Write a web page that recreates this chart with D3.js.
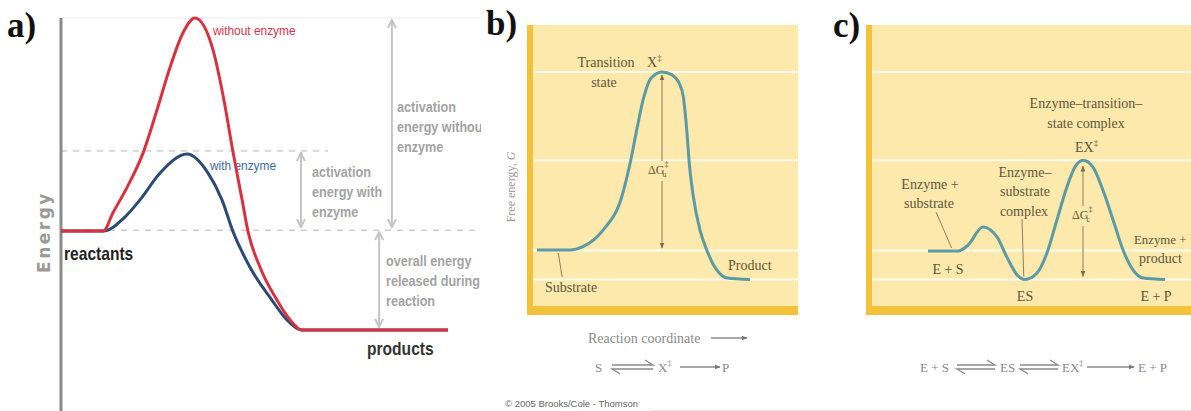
<!DOCTYPE html>
<html>
<head>
<meta charset="utf-8">
<script src="https://cdn.jsdelivr.net/npm/d3@7"></script>
<style>
  body { margin: 0; background: #fff; }
  svg { display: block; }
</style>
</head>
<body>
<svg width="1191" height="411"></svg>
<script>
const width = 1191;
const height = 411;
const svg = d3.select('svg');

// panel a - energy vs reaction progress (0-100), products = 0
const withoutX = [0, 10.9, 13.4, 17.1, 21.2, 24.8, 28.2, 31.5, 34.6, 39.3, 42.1, 44.4, 46.8, 48.3, 51.4, 55.8, 59.2, 62.3, 100];
const withoutE = [31.7, 31.7, 37.5, 45.8, 56.7, 70.5, 84.3, 95.2, 100, 89.7, 73.7, 57.4, 41.7, 31.7, 20.2, 9.6, 3.2, 0, 0];
const withX = [0, 10.9, 16.5, 20.4, 25.6, 32.6, 38, 41.6, 44.4, 48.8, 54.5, 58.4, 62.3, 100];
const withE = [31.7, 31.7, 36.2, 41.7, 50.3, 56.4, 50.3, 41.7, 31.7, 20.2, 9.6, 3.2, 0, 0];
const levelsA = {peakWithout: 100, peakWith: 57.4, reactants: 32, products: 0};

// panel b - uncatalysed reaction, free energy G
const bX = [0, 15.5, 21.6, 31.1, 39.8, 43.7, 46.8, 50.2, 53.5, 58.7, 63.4, 66.7, 68.7, 70.3, 71.5, 73.4, 76.5, 79.7, 84.4, 89.2, 100];
const bG = [14.2, 14.2, 15.8, 23.9, 39.9, 56, 72, 88.1, 97, 100, 98.6, 94.7, 88.1, 72, 56, 39.9, 23.9, 14.2, 4.6, 0.7, 0];

// panel c - enzyme catalysed reaction, same G scale
const cX = [0, 12.7, 16.9, 23.2, 29.1, 33.3, 37.6, 40.9, 46, 50.2, 54.4, 58.6, 62, 65.4, 69.6, 73.8, 78.1, 82.3, 86.5, 90.7, 100];
const cG = [13.7, 13.7, 16.6, 25.3, 20.5, 10.8, 2.2, 0, 3.1, 12.8, 28.7, 44.6, 54.2, 57.5, 54.2, 43.1, 28.7, 14.2, 4.6, 0.7, 0];

const gridG = [0, 14, 57.5, 100];

const serif = '"Liberation Serif", "DejaVu Serif", serif';
const sans = '"Liberation Sans", "DejaVu Sans", sans-serif';
const ink = '#62553d';

const zip = (xs, ys) => xs.map((x, i) => [x, ys[i]]);

// squeeze a text horizontally (no narrow font installed)
const condense = (sel, k) => sel.each(function() {
    const L = this.getComputedTextLength();
    d3.select(this).attr('textLength', L * k).attr('lengthAdjust', 'spacingAndGlyphs');
});

svg.append('rect').attr('width', width).attr('height', height).attr('fill', '#fff');

const defs = svg.append('defs');
defs.append('marker')
    .attr('id', 'chev')
    .attr('viewBox', '0 0 10 10')
    .attr('refX', 9).attr('refY', 5)
    .attr('markerWidth', 10).attr('markerHeight', 10)
    .attr('markerUnits', 'userSpaceOnUse')
    .attr('orient', 'auto-start-reverse')
    .append('path')
    .attr('d', 'M1,1 L9,5 L1,9')
    .attr('fill', 'none')
    .attr('stroke', '#c4c4c4')
    .attr('stroke-width', 2);
defs.append('marker')
    .attr('id', 'tip')
    .attr('viewBox', '0 0 10 10')
    .attr('refX', 9).attr('refY', 5)
    .attr('markerWidth', 6).attr('markerHeight', 6)
    .attr('markerUnits', 'userSpaceOnUse')
    .attr('orient', 'auto-start-reverse')
    .append('path')
    .attr('d', 'M0,1 L10,5 L0,9 Z')
    .attr('fill', '#7a6c50');
defs.append('marker')
    .attr('id', 'tipGray')
    .attr('viewBox', '0 0 10 10')
    .attr('refX', 9).attr('refY', 5)
    .attr('markerWidth', 6).attr('markerHeight', 6)
    .attr('markerUnits', 'userSpaceOnUse')
    .attr('orient', 'auto')
    .append('path')
    .attr('d', 'M0,1 L10,5 L0,9 Z')
    .attr('fill', '#777');

/* ---------------- panel a ---------------- */
const xA = d3.scaleLinear().domain([0, 100]).range([61, 448]);
const yA = d3.scaleLinear().domain([0, 100]).range([330, 18]);

const gA = svg.append('g');
defs.append('clipPath').attr('id', 'clipA')
    .append('rect').attr('x', 0).attr('y', 0).attr('width', 481).attr('height', height);
gA.attr('clip-path', 'url(#clipA)');

gA.append('line')
    .attr('x1', 61).attr('x2', 481)
    .attr('y1', yA(levelsA.peakWithout)).attr('y2', yA(levelsA.peakWithout))
    .attr('stroke', '#f1f1f1').attr('stroke-width', 1.5);

gA.append('line')
    .attr('x1', xA(0)).attr('x2', xA(69))
    .attr('y1', yA(levelsA.peakWith)).attr('y2', yA(levelsA.peakWith))
    .attr('stroke', '#cfcfcf').attr('stroke-width', 1.5).attr('stroke-dasharray', '6,6');
gA.append('line')
    .attr('x1', xA(0)).attr('x2', 481)
    .attr('y1', yA(levelsA.reactants)).attr('y2', yA(levelsA.reactants))
    .attr('stroke', '#cfcfcf').attr('stroke-width', 1.5).attr('stroke-dasharray', '6,6');

// y axis
gA.append('line')
    .attr('x1', 61).attr('x2', 61).attr('y1', 18).attr('y2', height)
    .attr('stroke', '#8a8a8a').attr('stroke-width', 3);

gA.append('text')
    .text('Energy')
    .attr('transform', 'translate(50,232) rotate(-90)')
    .attr('text-anchor', 'middle')
    .attr('font-family', '"DejaVu Sans", sans-serif')
    .attr('font-weight', 'bold')
    .attr('font-size', 17)
    .attr('letter-spacing', 2.5)
    .attr('fill', '#9a9a9a');

gA.append('text')
    .text('a)')
    .attr('x', 7).attr('y', 37)
    .attr('font-family', serif).attr('font-weight', 'bold').attr('font-size', 35)
    .attr('fill', '#111');

// annotation arrows
const arrowsA = [
    {x: 62, from: levelsA.peakWith, to: levelsA.reactants},
    {x: 85.5, from: levelsA.peakWithout, to: levelsA.reactants},
    {x: 82.2, from: levelsA.reactants, to: levelsA.products}
];
gA.selectAll('.ann')
    .data(arrowsA)
    .enter()
    .append('line')
    .attr('x1', d => xA(d.x)).attr('x2', d => xA(d.x))
    .attr('y1', d => yA(d.from) + 2).attr('y2', d => yA(d.to) - 3)
    .attr('stroke', '#c4c4c4').attr('stroke-width', 2)
    .attr('marker-start', 'url(#chev)').attr('marker-end', 'url(#chev)');

const noteA = [
    {x: 312, y: 177, lines: ['activation', 'energy with', 'enzyme']},
    {x: 397, y: 112, lines: ['activation', 'energy without', 'enzyme']},
    {x: 386, y: 266, lines: ['overall energy', 'released during', 'reaction']}
];
noteA.forEach(n => {
    n.lines.forEach((s, i) => {
        gA.append('text')
            .attr('x', n.x).attr('y', n.y + i * 20)
            .attr('font-family', sans).attr('font-weight', 'bold').attr('font-size', 14.5)
            .attr('fill', '#a3a3a3')
            .text(s)
            .call(condense, 0.87);
    });
});

gA.append('text').text('without enzyme')
    .attr('x', 213).attr('y', 35)
    .attr('font-family', sans).attr('font-size', 12.5).attr('fill', '#d8344a')
    .call(condense, 0.95);
gA.append('text').text('with enzyme')
    .attr('x', 210).attr('y', 170)
    .attr('font-family', sans).attr('font-size', 12.5).attr('fill', '#3d6aa0')
    .call(condense, 0.95);

const lineA = d3.line().x(d => xA(d[0])).y(d => yA(d[1])).curve(d3.curveMonotoneX);
gA.append('path')
    .attr('d', lineA(zip(withX, withE)))
    .attr('fill', 'none').attr('stroke', '#2b4a78').attr('stroke-width', 3);
gA.append('path')
    .attr('d', lineA(zip(withoutX, withoutE)))
    .attr('fill', 'none').attr('stroke', '#d8313f').attr('stroke-width', 3);

gA.append('text').text('reactants')
    .attr('x', xA(0) + 3).attr('y', 260)
    .attr('font-family', sans).attr('font-weight', 'bold').attr('font-size', 19)
    .attr('fill', '#222')
    .call(condense, 0.82);
gA.append('text').text('products')
    .attr('x', 367).attr('y', 355)
    .attr('font-family', sans).attr('font-weight', 'bold').attr('font-size', 19)
    .attr('fill', '#333')
    .call(condense, 0.82);

/* ---------------- panels b and c ---------------- */
const yG = d3.scaleLinear().domain([0, 100]).range([279.5, 72]);
const xB = d3.scaleLinear().domain([0, 100]).range([537, 750]);
const xC = d3.scaleLinear().domain([0, 100]).range([928, 1165]);

function panel(left, right) {
    const g = svg.append('g');
    g.append('rect')
        .attr('x', left).attr('y', 25)
        .attr('width', right - left).attr('height', 290)
        .attr('fill', '#f3c23a');
    g.append('rect')
        .attr('x', left + 6).attr('y', 25)
        .attr('width', right - left - 6).attr('height', 281)
        .attr('fill', '#fde9ab');
    g.selectAll('.grid')
        .data(gridG)
        .enter()
        .append('line')
        .attr('x1', left + 6).attr('x2', right)
        .attr('y1', d => yG(d)).attr('y2', d => yG(d))
        .attr('stroke', '#fffaf0').attr('stroke-width', 2);
    return g;
}

function txt(g, s, x, y, opts = {}) {
    return g.append('text')
        .attr('x', x).attr('y', y)
        .attr('font-family', serif)
        .attr('font-size', opts.size || 14)
        .attr('text-anchor', opts.anchor || 'start')
        .attr('fill', opts.fill || ink)
        .text(s);
}

function dagger(t, size) {
    t.append('tspan').attr('dy', -6).attr('font-size', size || 9).text('‡');
    t.append('tspan').attr('dy', 6).text('');
    return t;
}

function deltaG(g, x, y, sub) {
    g.append('rect').attr('x', x - 2).attr('y', y - 13).attr('width', 26).attr('height', 20).attr('fill', '#fde9ab');
    const t = txt(g, 'ΔG', x, y, {size: 12});
    t.append('tspan').attr('dy', -7).attr('font-size', 8).text('‡');
    t.append('tspan').attr('dx', -6).attr('dy', 10).attr('font-size', 8).text(sub);
}

function equil(g, x0, x1, y) {
    const p = d3.path();
    p.moveTo(x0, y - 2); p.lineTo(x1, y - 2); p.lineTo(x1 - 8, y - 7);
    p.moveTo(x1, y + 2); p.lineTo(x0, y + 2); p.lineTo(x0 + 8, y + 7);
    g.append('path').attr('d', p.toString())
        .attr('fill', 'none').attr('stroke', '#8a8a8a').attr('stroke-width', 1.3);
}

function forward(g, x0, x1, y) {
    g.append('line').attr('x1', x0).attr('x2', x1).attr('y1', y).attr('y2', y)
        .attr('stroke', '#8a8a8a').attr('stroke-width', 1.3)
        .attr('marker-end', 'url(#tipGray)');
}

const curveColor = '#5a9ba6';

// panel b
const gB = panel(527, 798);
txt(gB, 'b)', 486, 35, {size: 35, fill: '#111'}).attr('font-weight', 'bold');

gB.append('line')
    .attr('x1', xB(58.7)).attr('x2', xB(58.7))
    .attr('y1', yG(100) + 3).attr('y2', yG(14.2) - 2)
    .attr('stroke', '#8d7f5f').attr('stroke-width', 1)
    .attr('marker-start', 'url(#tip)').attr('marker-end', 'url(#tip)');
deltaG(gB, 648, 174, 'u');

const lineB = d3.line().x(d => xB(d[0])).y(d => yG(d[1])).curve(d3.curveMonotoneX);
gB.append('path')
    .attr('d', lineB(zip(bX, bG)))
    .attr('fill', 'none').attr('stroke', curveColor).attr('stroke-width', 3);

txt(gB, 'Transition', 606, 67, {anchor: 'middle'});
txt(gB, 'state', 604, 87, {anchor: 'middle'});
dagger(txt(gB, 'X', 647, 67), 9);
txt(gB, 'Substrate', 545, 292);
gB.append('line').attr('x1', xB(10)).attr('x2', xB(11.8)).attr('y1', yG(14.2) + 3).attr('y2', 277)
    .attr('stroke', '#8d7f5f').attr('stroke-width', 1);
txt(gB, 'Product', 728, 270);

gB.append('text')
    .attr('transform', 'translate(515,187) rotate(-90)')
    .attr('text-anchor', 'middle')
    .attr('font-family', serif).attr('font-size', 12).attr('fill', '#9a9a9a')
    .text('Free energy, ')
    .append('tspan').attr('font-style', 'italic').text('G');

txt(gB, 'Reaction coordinate', 588, 343, {fill: '#8a8a8a'});
forward(gB, 711, 747, 338);
txt(gB, 'S', 595, 372, {size: 13, fill: '#8a8a8a'});
equil(gB, 612, 653, 367);
dagger(txt(gB, 'X', 658, 372, {size: 13, fill: '#8a8a8a'}), 8);
forward(gB, 680, 720, 367);
txt(gB, 'P', 722, 372, {size: 13, fill: '#8a8a8a'});

txt(gB, '© 2005 Brooks/Cole - Thomson', 505, 407, {fill: '#666', size: 9.5})
    .attr('font-family', sans);

// panel c
const gC = panel(866, width);
txt(gC, 'c)', 833, 37, {size: 35, fill: '#111'}).attr('font-weight', 'bold');

gC.append('line')
    .attr('x1', xC(65.4)).attr('x2', xC(65.4))
    .attr('y1', yG(57.5) + 6).attr('y2', yG(0) - 3)
    .attr('stroke', '#8d7f5f').attr('stroke-width', 1)
    .attr('marker-start', 'url(#tip)').attr('marker-end', 'url(#tip)');
deltaG(gC, 1072, 219, 'c');

const lineC = d3.line().x(d => xC(d[0])).y(d => yG(d[1])).curve(d3.curveMonotoneX);
gC.append('path')
    .attr('d', lineC(zip(cX, cG)))
    .attr('fill', 'none').attr('stroke', curveColor).attr('stroke-width', 3);

txt(gC, 'Enzyme–transition–', 1086, 108, {anchor: 'middle'});
txt(gC, 'state complex', 1086, 128, {anchor: 'middle'});
dagger(txt(gC, 'EX', 1075, 152), 9);
txt(gC, 'Enzyme–', 1025, 177, {anchor: 'middle'});
txt(gC, 'substrate', 1025, 196, {anchor: 'middle'});
txt(gC, 'complex', 1024, 216, {anchor: 'middle'});
gC.append('line').attr('x1', 1022).attr('x2', xC(40.4)).attr('y1', 219).attr('y2', yG(0) - 3)
    .attr('stroke', '#8d7f5f').attr('stroke-width', 1);
txt(gC, 'Enzyme +', 930, 189, {anchor: 'middle'});
txt(gC, 'substrate', 929, 208, {anchor: 'middle'});
gC.append('line').attr('x1', 936).attr('x2', xC(10)).attr('y1', 212).attr('y2', yG(13.7) - 3)
    .attr('stroke', '#8d7f5f').attr('stroke-width', 1);
txt(gC, 'E + S', 948, 274, {anchor: 'middle'});
txt(gC, 'ES', 1025, 301, {anchor: 'middle'});
txt(gC, 'Enzyme +', 1134, 244, {size: 13.5}).call(condense, 0.95);
txt(gC, 'product', 1139, 263);
txt(gC, 'E + P', 1156, 301, {anchor: 'middle'});

txt(gC, 'E + S', 920, 372, {size: 13, fill: '#8a8a8a'});
equil(gC, 957, 995, 367);
txt(gC, 'ES', 1000, 372, {size: 13, fill: '#8a8a8a'});
equil(gC, 1020, 1058, 367);
dagger(txt(gC, 'EX', 1062, 372, {size: 13, fill: '#8a8a8a'}), 8);
forward(gC, 1087, 1134, 367);
txt(gC, 'E + P', 1138, 372, {size: 13, fill: '#8a8a8a'});

svg.append('line')
    .attr('x1', 650).attr('x2', width).attr('y1', 410.5).attr('y2', 410.5)
    .attr('stroke', '#e2e2e2').attr('stroke-width', 1);
</script>
</body>
</html>
